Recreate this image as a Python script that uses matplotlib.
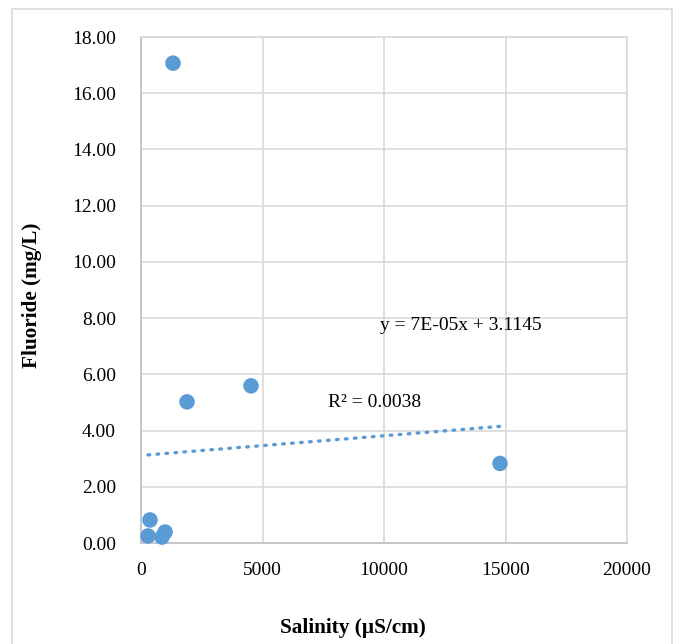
import matplotlib
matplotlib.use("Agg")
import matplotlib.pyplot as plt
from matplotlib.patches import Rectangle
import numpy as np

plt.rcParams['font.family'] = ['Liberation Serif', 'DejaVu Serif']

salinity = [1317, 1893, 4527, 14774, 370, 290, 864, 990]
fluoride = [17.07, 5.02, 5.59, 2.83, 0.82, 0.25, 0.21, 0.39]
trend_slope = 7e-05
trend_intercept = 3.1145
eq_label = "y = 7E-05x + 3.1145"
r2_label = "R² = 0.0038"
xticks = [0, 5000, 10000, 15000, 20000]
yticks = [0, 2, 4, 6, 8, 10, 12, 14, 16, 18]

blue = '#5B9BD5'
fs = 14
fig = plt.figure(figsize=(6.81, 6.44), dpi=100)
ax = fig.add_axes([141/681, 1-543/644, (627-141)/681, (543-37)/644])

ax.set_xlim(0, 20000)
ax.set_ylim(0, 18)
ax.set_xticks(xticks)
ax.set_yticks(yticks)
ax.set_yticklabels([f"{v:.2f}" for v in yticks])
ax.grid(True, color='#D9D9D9', linewidth=1.2)
ax.set_axisbelow(True)
for s in ax.spines.values():
    s.set_color('#D9D9D9')
    s.set_linewidth(1.2)
ax.spines['left'].set_color('#BFBFBF')
ax.spines['bottom'].set_color('#BFBFBF')
ax.tick_params(axis='y', length=0, labelsize=fs, pad=18)
ax.tick_params(axis='x', length=0, labelsize=fs, pad=14)

xs = np.array([min(salinity), max(salinity)])
ax.plot(xs, trend_slope*xs + trend_intercept, linestyle=(0, (0.5, 2.2)),
        dash_capstyle='round', color=blue, linewidth=2.4, zorder=2)
ax.scatter(salinity, fluoride, s=125, color=blue, edgecolors='none', zorder=3, clip_on=False)

ax.text(9830, 7.75, eq_label, fontsize=fs, ha='left', va='center')
ax.text(7700, 5.0, r2_label, fontsize=fs, ha='left', va='center')

fig.text(353/681, 1-628/644, "Salinity (µS/cm)", fontsize=15.3, fontweight='bold', ha='center', va='center')
fig.text(32/681, 1-295/644, "Fluoride (mg/L)", fontsize=15.3, fontweight='bold', ha='center', va='center', rotation=90)

fig.patches.append(Rectangle((12/681, -0.1), (672-12)/681, 1.1 - 9/644, transform=fig.transFigure,
                             fill=False, edgecolor='#D9D9D9', linewidth=1.2))
fig.savefig('out.png', dpi=100)
